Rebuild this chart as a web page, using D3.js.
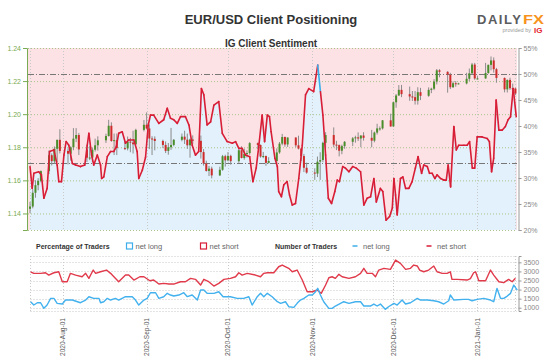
<!DOCTYPE html>
<html>
<head>
<meta charset="utf-8">
<script src="https://cdn.jsdelivr.net/npm/d3@7"></script>
<style>
body{margin:0;background:#fff;}
svg{display:block;font-family:"Liberation Sans",Arial,sans-serif;}
</style>
</head>
<body>
<script>
(function(){

//first and last trading day of the window
var startDay = new Date(2020, 6, 20),
    lastDay = new Date(2021, 0, 15);

//daily EUR/USD candles, one per weekday from startDay to lastDay
var opens = [1.1428,1.1442,1.1525,1.1571,1.1597,1.1656,1.1752,1.1716,1.1791,1.1845,
    1.1778,1.1761,1.1800,1.1852,1.1874,1.1787,1.1737,1.1738,1.1785,1.1812,1.1842,1.1868,1.1930,1.1838,1.1843,1.1795,1.1793,1.1834,1.1829,1.1818,1.1905,
    1.1936,1.1914,1.1853,1.1851,1.1838,1.1814,1.1778,1.1800,1.1814,1.1845,1.1864,1.1846,1.1812,1.1847,1.1839,1.1771,1.1702,1.1657,1.1671,1.1630,1.1664,1.1746,
    1.1721,1.1748,1.1716,1.1782,1.1735,1.1760,1.1765,1.1825,1.1814,1.1744,1.1747,1.1706,1.1717,1.1769,1.1822,1.1862,1.1817,1.1859,1.1812,1.1792,1.1747,1.1676,
    1.1647,1.1641,1.1713,1.1723,1.1827,1.1874,1.1816,1.1813,1.1779,1.1807,1.1833,1.1854,1.1860,1.1853,1.1871,1.1857,1.1840,1.1889,1.1914,1.1914,1.1963,
    1.1926,1.2072,1.2113,1.2147,1.2121,1.2107,1.2103,1.2081,1.2133,1.2111,1.2147,1.2154,1.2197,1.2265,1.2256,1.2239,1.2163,1.2187,1.2185,1.2186,1.2214,1.2247,1.2300,
    1.2216,1.2216,1.2249,1.2298,1.2325,1.2272,1.2219,1.2150,1.2207,1.2157,1.2155];
var highs = [1.1470,1.1546,1.1601,1.1613,1.1660,1.1781,1.1763,1.1805,1.1846,1.1909,
    1.1792,1.1806,1.1916,1.1916,1.1887,1.1810,1.1806,1.1799,1.1852,1.1866,1.1882,1.1966,1.1951,1.1883,1.1883,1.1838,1.1865,1.1857,1.1900,1.1912,1.1965,
    1.2011,1.1938,1.1867,1.1866,1.1846,1.1835,1.1826,1.1917,1.1850,1.1883,1.1900,1.1883,1.1852,1.1872,1.1871,1.1789,1.1719,1.1687,1.1683,1.1683,1.1754,1.1755,
    1.1771,1.1755,1.1799,1.1806,1.1792,1.1781,1.1831,1.1829,1.1817,1.1772,1.1750,1.1740,1.1793,1.1832,1.1881,1.1865,1.1860,1.1860,1.1870,1.1797,1.1760,1.1707,
    1.1673,1.1744,1.1770,1.1834,1.1891,1.1920,1.1839,1.1817,1.1816,1.1838,1.1862,1.1870,1.1890,1.1873,1.1891,1.1905,1.1895,1.1942,1.1926,1.1964,1.2003,
    1.2077,1.2122,1.2176,1.2177,1.2167,1.2140,1.2140,1.2163,1.2159,1.2162,1.2160,1.2212,1.2273,1.2272,1.2260,1.2250,1.2198,1.2200,1.2190,1.2250,1.2276,1.2310,1.2310,
    1.2230,1.2310,1.2300,1.2349,1.2343,1.2280,1.2222,1.2210,1.2220,1.2185,1.2160];
var lows = [1.1402,1.1431,1.1495,1.1540,1.1588,1.1638,1.1690,1.1702,1.1711,1.1763,
    1.1696,1.1719,1.1782,1.1831,1.1753,1.1711,1.1722,1.1711,1.1774,1.1780,1.1826,1.1865,1.1833,1.1753,1.1753,1.1783,1.1781,1.1770,1.1762,1.1812,1.1896,
    1.1908,1.1789,1.1753,1.1781,1.1795,1.1765,1.1755,1.1784,1.1806,1.1836,1.1820,1.1790,1.1737,1.1817,1.1732,1.1689,1.1653,1.1626,1.1612,1.1626,1.1658,1.1683,
    1.1715,1.1695,1.1706,1.1733,1.1725,1.1738,1.1755,1.1790,1.1737,1.1734,1.1688,1.1701,1.1701,1.1761,1.1812,1.1803,1.1802,1.1800,1.1787,1.1717,1.1650,1.1640,
    1.1603,1.1620,1.1603,1.1710,1.1792,1.1800,1.1783,1.1745,1.1758,1.1791,1.1807,1.1828,1.1838,1.1800,1.1840,1.1800,1.1830,1.1877,1.1900,1.1907,1.1924,
    1.1924,1.2039,1.2111,1.2103,1.2081,1.2080,1.2058,1.2058,1.2085,1.2105,1.2127,1.2145,1.2180,1.2223,1.2130,1.2152,1.2158,1.2166,1.2180,1.2180,1.2200,1.2239,1.2208,
    1.2210,1.2214,1.2244,1.2265,1.2251,1.2190,1.2132,1.2131,1.2147,1.2126,1.2115];
var closes = [1.1442,1.1525,1.1571,1.1597,1.1656,1.1752,1.1716,1.1791,1.1845,1.1778,
    1.1761,1.1800,1.1852,1.1874,1.1787,1.1737,1.1738,1.1785,1.1812,1.1842,1.1868,1.1930,1.1838,1.1843,1.1795,1.1793,1.1834,1.1829,1.1818,1.1905,1.1936,
    1.1914,1.1853,1.1851,1.1838,1.1814,1.1778,1.1800,1.1814,1.1845,1.1864,1.1846,1.1812,1.1847,1.1839,1.1771,1.1702,1.1657,1.1671,1.1630,1.1664,1.1746,1.1721,
    1.1748,1.1716,1.1782,1.1735,1.1760,1.1765,1.1825,1.1814,1.1744,1.1747,1.1706,1.1717,1.1769,1.1822,1.1862,1.1817,1.1859,1.1812,1.1792,1.1747,1.1676,1.1647,
    1.1641,1.1713,1.1723,1.1827,1.1874,1.1816,1.1813,1.1779,1.1807,1.1833,1.1854,1.1860,1.1853,1.1871,1.1857,1.1840,1.1889,1.1914,1.1914,1.1963,1.1926,
    1.2072,1.2113,1.2147,1.2121,1.2107,1.2103,1.2081,1.2133,1.2111,1.2147,1.2154,1.2197,1.2265,1.2256,1.2239,1.2163,1.2187,1.2185,1.2186,1.2214,1.2247,1.2300,1.2216,
    1.2216,1.2249,1.2298,1.2325,1.2272,1.2219,1.2150,1.2207,1.2157,1.2155,1.2125];

//IG client sentiment, % of traders net long: [days after startDay, percent]
var sentiment = [[0,32.2],[0.8,28.0],[1.4,30.9],[3.2,31.2],[4.2,30.6],[5.1,26.1],[6.3,28.0],[7.2,35.1],[8.8,35.4],[10,32.5],
    [10.6,29.3],[11.6,29.3],[12.5,34.4],[13.3,37.0],[14.3,36.3],[15.6,32.8],[16.8,32.5],[18.6,32.2],[20.2,32.5],[21.1,36.3],
    [21.7,38.6],[22.7,34.4],[23.5,32.5],[24.8,34.4],[26,32.5],[26.4,29.9],[27.2,30.2],[28.5,34.1],[29.7,35.1],[30.9,35.1],
    [31.8,36.0],[32.7,38.6],[34,38.9],[35.2,36.7],[36.4,37.3],[38.3,37.3],[39.5,35.1],[40.1,29.9],[41.4,31.5],[42.6,34.0],
    [43.6,40.2],[44.4,42.1],[45.6,42.1],[47.5,40.5],[49.3,41.2],[50.6,43.4],[51.8,41.5],[53,41.2],[54.3,40.5],[55.5,41.8],
    [57.3,41.8],[58.6,40.2],[59.8,36.3],[61,34.4],[62.2,35.1],[63.2,47.2],[64.1,46.0],[65.3,40.2],[66.6,40.8],[67.8,44.0],
    [69.6,44.7],[70.9,38.6],[72.7,37.0],[74.6,36.7],[75.8,37.0],[77,35.7],[78.2,35.7],[79.5,34.4],[81,34.1],[82.2,29.3],
    [83.4,31.9],[84.4,36.3],[85.6,42.1],[86.5,37.0],[87.5,42.1],[88.3,41.8],[88.9,38.9],[90.3,33.8],[91.2,32.2],[91.7,27.4],
    [92.7,26.4],[93.6,28.7],[94.8,29.3],[95.7,26.7],[96.7,24.8],[97.9,25.1],[99.1,29.9],[100.4,36.3],[101.6,46.0],[102.8,47.2],
    [104.6,46.6],[106.1,51.7],[107.1,46.6],[108,42.1],[109,34.4],[110,26.1],[111.2,25.1],[112.4,27.4],[113.3,29.6],[114.1,29.3],
    [115.3,32.2],[116.3,31.9],[117.6,31.2],[119,32.2],[120.3,31.9],[121.9,31.2],[123.1,24.8],[124.3,26.1],[125.6,26.4],[126.8,29.9],
    [127.7,25.4],[129.2,28.0],[130.1,27.4],[131.3,21.9],[132.6,22.6],[133.6,24.2],[134.2,29.9],[134.8,26.7],[135.4,22.9],[136.6,29.9],
    [137.5,30.2],[138.5,28.0],[139.7,28.0],[140.9,29.3],[142.1,31.9],[143.1,34.1],[144.4,30.9],[145.2,32.5],[146.5,32.2],[147.3,30.9],
    [148.3,30.9],[149.3,29.9],[150.1,30.6],[151.4,29.9],[152.6,29.6],[153.5,29.6],[154.2,32.5],[155.1,28.3],[156.3,39.9],[157.2,35.4],
    [158.1,36.3],[160,36.3],[161.2,36.3],[162.1,37.0],[163.1,31.9],[164,31.9],[164.9,37.9],[166.7,37.9],[168.6,37.6],[169.4,37.0],
    [170.2,31.2],[171,33.8],[171.9,45.0],[172.9,39.2],[174.1,39.2],[175.3,39.9],[176.3,41.2],[177.2,41.8],[178.2,47.2],[179.3,41.8]];

//number of traders: [days after startDay, traders]
var netLong = [[0.2,1330],[1.4,1149],[2.7,1275],[3.9,1275],[5.1,967],[6.3,1149],[7.6,1517],[8.8,1517],[10,1242],[11.9,1204],
    [13.1,1424],[15.6,1424],[18.6,1275],[20.5,1424],[21.7,1606],[23.5,1517],[25.4,1517],[26,1275],[27.2,1330],[28.5,1517],
    [29.7,1424],[31.5,1517],[32.7,1424],[35.2,1606],[37.7,1606],[38.9,1424],[40.1,1149],[42,1424],[43.2,1517],[44.4,1826],
    [46.3,1826],[47.5,1517],[49.3,1606],[50.6,1793],[51.8,1700],[53,1644],[54.9,1700],[56.7,1826],[58,1610],[59.8,1700],
    [61.7,1424],[62.9,1975],[64.1,1975],[65.3,1793],[67.8,1793],[69.6,1881],[71.2,1606],[73.9,1606],[76.4,1517],[78.8,1517],
    [80.7,1606],[81.9,1149],[83.8,1606],[85,1793],[86.2,1606],[87.5,1793],[89.3,1606],[91.2,1330],[92.4,1242],[94.2,1330],
    [95.4,1055],[97.3,1020],[98.5,1242],[99.7,1424],[101,1517],[102.8,1700],[104.1,1700],[105.3,1881],[106.1,2068],[107.1,1700],
    [108.3,1330],[110.2,967],[111.4,967],[112.6,1094],[114.5,1242],[115.7,1330],[117.6,1242],[120,1330],[121.9,1330],[123.1,1094],
    [125.5,1094],[126.8,1204],[128,1094],[129.2,1204],[131,912],[132.2,1055],[134.2,1242],[135.4,1149],[137.2,1424],[138.5,1204],
    [140.3,1275],[142.8,1517],[144,1424],[146.5,1424],[148.9,1385],[150.7,1330],[152.6,1204],[154.4,1385],[155,1700],[156.3,1424],
    [160,1462],[161.7,1462],[163,1385],[164.9,1462],[167.3,1517],[169.8,1424],[171,1330],[172.2,2068],[173.5,1517],[174.7,1517],
    [176,1644],[177.2,1793],[178.4,2250],[179.7,1975]];
var netShort = [[0.2,2982],[1.4,2894],[3.9,2894],[5.7,2927],[6.9,2800],[8.8,2927],[10.6,2982],[11.9,2432],[13.7,2432],[14.9,2894],
    [16.8,2800],[19.2,2707],[20.5,2894],[21.7,2619],[23.3,3076],[24.2,2894],[26,2982],[28.2,3076],[29.7,2894],[32.7,2432],
    [35.2,2800],[36.4,2800],[38.3,2525],[40.5,2707],[42,2707],[44.2,2487],[45.6,2525],[47.5,2305],[49.3,2344],[51.2,2305],
    [53,2305],[55.5,2432],[57.3,2432],[59.2,2619],[61,2564],[62.9,2250],[64.1,2564],[65.9,2432],[67.8,2195],[69.6,2344],
    [71.5,2564],[73.9,2619],[75.8,2707],[77,2927],[78.2,2800],[80.1,2894],[83.1,2800],[85,2707],[86.2,2894],[87.5,2927],
    [89.9,2927],[91.7,3258],[93,3350],[95.4,3170],[96.7,2982],[98.5,3076],[100.4,2525],[102.2,1881],[104.1,1881],[105.9,1975],
    [107.4,1793],[109,2250],[110.2,2652],[111.4,2707],[112.6,2619],[113.9,2840],[115.1,2707],[117.6,2619],[120,2707],[121.9,2894],
    [123.1,3170],[124.3,2894],[126.2,2894],[127.4,2707],[128.6,3076],[130.5,3170],[132.9,3115],[134.8,3627],[136.6,3445],[138.5,3115],
    [140.3,3170],[141.5,3350],[142.8,3300],[143.7,3076],[145.2,2982],[147,3076],[148.9,3296],[150.1,2982],[152,2894],[153.8,2894],
    [155,2982],[155.6,2564],[157.5,2564],[161.2,2525],[162.4,2600],[163.6,2927],[164.3,2982],[165.5,2487],[168,2487],[169.8,3076],
    [171,2800],[172.9,2432],[174.7,2380],[176.5,2564],[177.8,2432],[179,2619]];

//axis ticks and reference levels
var priceTicks = [1.14, 1.16, 1.18, 1.20, 1.22, 1.24];
var pctTicks = [20, 25, 30, 35, 40, 45, 50, 55];
var countTicks = [1000, 1500, 2000, 2500, 3000, 3500];
var monthTicks = ["2020-08-01", "2020-09-01", "2020-10-01", "2020-11-01", "2020-12-01", "2021-01-01"];
var refLevels = [50, 32.9]; //dash-dot lines, % axis

//colours
var pink = "#fce2e5", paleBlue = "#e2f1fb", lineRed = "#d81d36", lineBlue = "#3daee9",
    upGreen = "#4a8e2b", downRed = "#cf2b2b", wickGrey = "#8c8c8c", axisGreen = "#78ab52";

var W = 547, H = 361;
var plotL = 28, plotR = 517,
    mainTop = 48, mainBot = 230,
    lowTop = 256, lowBot = 311;

var svg = d3.select("body").append("svg")
    .attr("width", W)
    .attr("height", H);

//scales
var x = d3.scaleTime()
    .domain([new Date(2020, 6, 19, 6), new Date(2021, 0, 15, 14)])
    .range([plotL, plotR]);
var yPrice = d3.scaleLinear().domain([1.13, 1.24]).range([mainBot, mainTop]);
var yPct = d3.scaleLinear().domain([20, 55]).range([mainBot, mainTop]);
var yCount = d3.scaleLinear().domain([820, 3850]).range([lowBot, lowTop]);

function dayToDate(d){
    return new Date(+startDay + d * 864e5);
}
var tickDates = monthTicks.map(function(s){ return d3.timeParse("%Y-%m-%d")(s); });

//candle dates = every weekday in the window
var candleDates = d3.timeDay.range(startDay, d3.timeDay.offset(lastDay, 1))
    .filter(function(d){ return d.getDay() !== 0 && d.getDay() !== 6; });
var candles = candleDates.map(function(d, i){
    return {date: d, o: opens[i], h: highs[i], l: lows[i], c: closes[i]};
});

//---------------- titles ----------------
svg.append("text")
    .attr("x", 271).attr("y", 23.5)
    .attr("text-anchor", "middle")
    .style("font-size", "13px").style("font-weight", "bold").style("fill", "#333")
    .text("EUR/USD Client Positioning");

svg.append("text")
    .attr("x", 271).attr("y", 46.5)
    .attr("text-anchor", "middle")
    .style("font-size", "10px").style("font-weight", "bold").style("fill", "#333")
    .text("IG Client Sentiment");

//DailyFX logo
var logo = svg.append("text")
    .attr("x", 477).attr("y", 24)
    .style("font-size", "13px").style("font-weight", "bold");
logo.append("tspan").style("fill", "#5b5c5e").attr("textLength", 44).attr("lengthAdjust", "spacing").text("DAILY");
logo.append("tspan").attr("x", 523).style("fill", "#f7941d").attr("textLength", 21).attr("lengthAdjust", "spacingAndGlyphs").text("FX");
svg.append("text")
    .attr("x", 531).attr("y", 32)
    .attr("text-anchor", "end")
    .style("font-size", "5.5px").style("fill", "#999")
    .text("provided by");
svg.append("text")
    .attr("x", 534).attr("y", 33)
    .style("font-size", "8px").style("font-weight", "bold").style("fill", "#e3262f")
    .text("IG");

//---------------- main panel ----------------
var main = svg.append("g").attr("class", "main");

main.append("rect")
    .attr("x", plotL).attr("y", mainTop)
    .attr("width", plotR - plotL).attr("height", mainBot - mainTop)
    .attr("fill", pink);

var area = d3.area()
    .x(function(d){ return x(dayToDate(d[0])); })
    .y0(mainBot)
    .y1(function(d){ return yPct(d[1]); });
main.append("path")
    .datum(sentiment)
    .attr("d", area)
    .attr("fill", paleBlue);

//grid
main.selectAll(".hgrid")
    .data(priceTicks.concat([1.13]))
    .enter().append("line")
    .attr("x1", plotL).attr("x2", plotR)
    .attr("y1", function(d){ return yPrice(d) + 0.5; })
    .attr("y2", function(d){ return yPrice(d) + 0.5; })
    .attr("stroke", "#a9c58c").attr("stroke-dasharray", "1,2");

main.selectAll(".vgrid")
    .data(tickDates.concat([startDay, lastDay]))
    .enter().append("line")
    .attr("x1", function(d){ return Math.round(x(d)) + 0.5; })
    .attr("x2", function(d){ return Math.round(x(d)) + 0.5; })
    .attr("y1", mainTop).attr("y2", mainBot)
    .attr("stroke", "#c9c9c9").attr("stroke-dasharray", "1,2");

main.selectAll(".ref")
    .data(refLevels)
    .enter().append("line")
    .attr("x1", plotL).attr("x2", plotR)
    .attr("y1", function(d){ return Math.round(yPct(d)) + 0.5; })
    .attr("y2", function(d){ return Math.round(yPct(d)) + 0.5; })
    .attr("stroke", "#777").attr("stroke-dasharray", "6,2,1,2");

//candles
var cg = main.selectAll(".candle")
    .data(candles)
    .enter().append("g");
cg.append("line")
    .attr("x1", function(d){ return x(d.date); })
    .attr("x2", function(d){ return x(d.date); })
    .attr("y1", function(d){ return yPrice(d.h); })
    .attr("y2", function(d){ return yPrice(d.l); })
    .attr("stroke", wickGrey).attr("stroke-width", 1);
cg.append("rect")
    .attr("x", function(d){ return x(d.date) - 1; })
    .attr("width", 2)
    .attr("y", function(d){ return yPrice(Math.max(d.o, d.c)); })
    .attr("height", function(d){ return Math.max(1, Math.abs(yPrice(d.o) - yPrice(d.c))); })
    .attr("fill", function(d){ return d.c >= d.o ? upGreen : downRed; });

//sentiment line, blue where the segment starts above 50%
var line = d3.line()
    .x(function(d){ return x(dayToDate(d[0])); })
    .y(function(d){ return yPct(d[1]); });
var segments = d3.pairs(sentiment);
main.selectAll(".seg")
    .data(segments)
    .enter().append("path")
    .attr("d", line)
    .attr("fill", "none")
    .attr("stroke", function(d){ return d[0][1] >= 50 ? lineBlue : lineRed; })
    .attr("stroke-width", 1.6)
    .attr("stroke-linejoin", "round")
    .attr("stroke-linecap", "round");

//axes
var leftAxis = main.append("g")
    .attr("transform", "translate(27,0)")
    .call(d3.axisLeft(yPrice).tickValues(priceTicks).tickFormat(d3.format(".2f"))
        .tickSize(4).tickSizeOuter(4).tickPadding(2));
leftAxis.selectAll("path, line").attr("stroke", axisGreen);
leftAxis.selectAll("text").attr("fill", axisGreen).style("font-size", "7px")
    .style("font-family", "'Liberation Sans', Arial, sans-serif");

var rightAxis = main.append("g")
    .attr("transform", "translate(518.5,0)")
    .call(d3.axisRight(yPct).tickValues(pctTicks).tickFormat(function(d){ return d + "%"; })
        .tickSize(3).tickSizeOuter(3).tickPadding(2));
rightAxis.selectAll("path, line").attr("stroke", "#999");
rightAxis.selectAll("text").attr("fill", "#888").style("font-size", "7px")
    .style("font-family", "'Liberation Sans', Arial, sans-serif");

//---------------- legend row ----------------
var legend = svg.append("g").style("font-size", "7px");
legend.append("text").attr("x", 36).attr("y", 248.5)
    .style("font-weight", "bold").style("fill", "#333").text("Percentage of Traders");
legend.append("rect").attr("x", 126.5).attr("y", 243).attr("width", 6).attr("height", 6)
    .attr("fill", "none").attr("stroke", lineBlue).attr("stroke-width", 1.2);
legend.append("text").attr("x", 135.5).attr("y", 248.5).style("font-size", "7.5px")
    .style("fill", "#666").text("net long");
legend.append("rect").attr("x", 200.5).attr("y", 243).attr("width", 6).attr("height", 6)
    .attr("fill", "none").attr("stroke", lineRed).attr("stroke-width", 1.2);
legend.append("text").attr("x", 209.5).attr("y", 248.5).style("font-size", "7.5px")
    .style("fill", "#666").text("net short");
legend.append("text").attr("x", 275).attr("y", 248.5)
    .style("font-weight", "bold").style("fill", "#333").text("Number of Traders");
legend.append("line").attr("x1", 352.5).attr("x2", 357.5).attr("y1", 246).attr("y2", 246)
    .attr("stroke", lineBlue).attr("stroke-width", 1.5);
legend.append("text").attr("x", 363).attr("y", 248.5).style("font-size", "7.5px")
    .style("fill", "#666").text("net long");
legend.append("line").attr("x1", 426.5).attr("x2", 431.5).attr("y1", 246).attr("y2", 246)
    .attr("stroke", lineRed).attr("stroke-width", 1.5);
legend.append("text").attr("x", 437).attr("y", 248.5).style("font-size", "7.5px")
    .style("fill", "#666").text("net short");

//---------------- lower panel ----------------
var low = svg.append("g").attr("class", "low");

low.selectAll(".hgrid")
    .data(countTicks.concat([3850, 820]))
    .enter().append("line")
    .attr("x1", Math.round(x(startDay)) + 0.5).attr("x2", plotR)
    .attr("y1", function(d){ return Math.round(yCount(d)) + 0.5; })
    .attr("y2", function(d){ return Math.round(yCount(d)) + 0.5; })
    .attr("stroke", "#c9c9c9").attr("stroke-dasharray", "1,2");

low.selectAll(".vgrid")
    .data(tickDates.concat([startDay, lastDay]))
    .enter().append("line")
    .attr("x1", function(d){ return Math.round(x(d)) + 0.5; })
    .attr("x2", function(d){ return Math.round(x(d)) + 0.5; })
    .attr("y1", lowTop).attr("y2", lowBot)
    .attr("stroke", "#c9c9c9").attr("stroke-dasharray", "1,2");

var countLine = d3.line()
    .x(function(d){ return x(dayToDate(d[0])); })
    .y(function(d){ return yCount(d[1]); });
low.append("path").datum(netShort).attr("d", countLine)
    .attr("fill", "none").attr("stroke", "#e03a4b").attr("stroke-width", 1.4)
    .attr("stroke-linejoin", "round");
low.append("path").datum(netLong).attr("d", countLine)
    .attr("fill", "none").attr("stroke", "#42b1ee").attr("stroke-width", 1.4)
    .attr("stroke-linejoin", "round");

var countAxis = low.append("g")
    .attr("transform", "translate(518.5,0)")
    .call(d3.axisRight(yCount).tickValues(countTicks).tickFormat(d3.format("d"))
        .tickSize(3).tickSizeOuter(3).tickPadding(2));
countAxis.selectAll("path, line").attr("stroke", "#999");
countAxis.selectAll("text").attr("fill", "#888").style("font-size", "7px")
    .style("font-family", "'Liberation Sans', Arial, sans-serif");

//date labels, rotated
var fmt = d3.timeFormat("%Y-%b-%d");
svg.selectAll(".dlabel")
    .data(tickDates)
    .enter().append("text")
    .attr("transform", function(d){ return "translate(" + (x(d) + 2.5) + ",318) rotate(-90)"; })
    .attr("text-anchor", "end")
    .style("font-size", "7px").style("fill", "#555")
    .attr("textLength", 38).attr("lengthAdjust", "spacingAndGlyphs")
    .text(function(d){ return fmt(d); });

})();
</script>
</body>
</html>
